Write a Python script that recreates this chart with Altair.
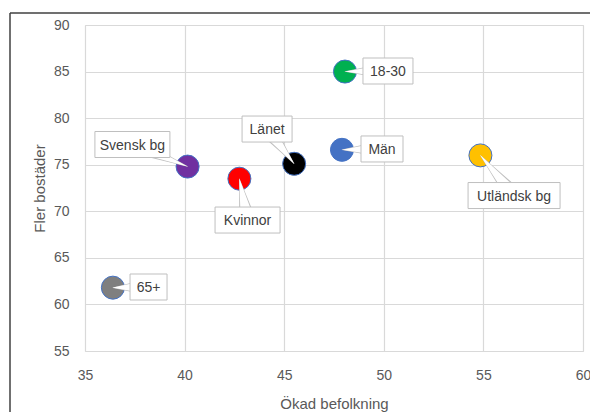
import altair as alt
import pandas as pd

# ---- data ----
names = ["Svensk bg", "Kvinnor", "Länet", "18-30", "Män", "Utländsk bg", "65+"]
befolkning = [40.15, 42.75, 45.5, 48.05, 47.9, 54.85, 36.4]
bostader = [74.8, 73.5, 75.1, 85.0, 76.6, 76.0, 61.8]
colors = ["#7030A0", "#FF0000", "#000000", "#00B050", "#4472C4", "#FFC000", "#7F7F7F"]
# label (callout) centres, in data units
label_x = [37.38, 43.16, 44.14, 50.21, 49.91, 56.54, 38.19]
label_y = [77.17, 69.06, 78.83, 85.06, 76.69, 71.69, 61.87]
# callout box widths in pixels
box_w = [75, 65, 50, 50, 42, 92, 37]
BOX_H = 26

x_ticks = [35, 40, 45, 50, 55, 60]
y_ticks = [55, 60, 65, 70, 75, 80, 85, 90]

FONT = "Liberation Sans"

pts = pd.DataFrame({"name": names, "x": befolkning, "y": bostader, "c": colors})

labels = pd.DataFrame({
    "name": names,
    "x": label_x,
    "y": label_y,
    "path": [f"M-1,{-BOX_H / w:.4f}L1,{-BOX_H / w:.4f}L1,{BOX_H / w:.4f}L-1,{BOX_H / w:.4f}Z" for w in box_w],
    "sz": [w * w for w in box_w],
})

rows = []
for n, px, py, lx, ly in zip(names, befolkning, bostader, label_x, label_y):
    rows.append({"name": n, "x": px, "y": py, "o": 0, "wg": 0.5, "ww": 0.1})
    rows.append({"name": n, "x": lx, "y": ly, "o": 1, "wg": 17, "ww": 14})
wedges = pd.DataFrame(rows)

xs = alt.Scale(domain=[35, 60], nice=False, zero=False)
ys = alt.Scale(domain=[55, 90], nice=False, zero=False)

x_axis = alt.Axis(
    values=x_ticks, title="Ökad befolkning", grid=True, domain=False,
    ticks=False, tickSize=0, labelPadding=28, labelBaseline="alphabetic",
    labelFlush=False, labelAlign="center",
    labelFont=FONT, labelFontSize=14, labelColor="#595959",
    titleFont=FONT, titleFontSize=15, titleColor="#595959", titleFontWeight="normal",
    titleBaseline="alphabetic", titleY=57, titleX=249,
    gridColor="#D9D9D9", gridWidth=1.2)
y_axis = alt.Axis(
    values=y_ticks, title="Fler bostäder", grid=True, domain=False,
    ticks=False, tickSize=0, labelPadding=16,
    labelFlush=False, labelBaseline="middle",
    labelFont=FONT, labelFontSize=14, labelColor="#595959",
    titleFont=FONT, titleFontSize=15, titleColor="#595959", titleFontWeight="normal",
    titleAngle=270, titleAlign="center", titleBaseline="alphabetic",
    titleX=-41, titleY=163,
    gridColor="#D9D9D9", gridWidth=1.2)

X = alt.X("x:Q", scale=xs, axis=x_axis)
Y = alt.Y("y:Q", scale=ys, axis=y_axis)

points = alt.Chart(pts).mark_point(
    filled=True, size=530, opacity=1, stroke="#4472C4", strokeWidth=1
).encode(x=X, y=Y, color=alt.Color("c:N", scale=None))

wedge_gray = alt.Chart(wedges).mark_trail(color="#BFBFBF").encode(
    x=X, y=Y, detail="name:N", order="o:Q", size=alt.Size("wg:Q", scale=None),
)
wedge_white = alt.Chart(wedges).mark_trail(color="#FFFFFF").encode(
    x=X, y=Y, detail="name:N", order="o:Q", size=alt.Size("ww:Q", scale=None),
)

boxes = alt.Chart(labels).mark_point(
    filled=True, fill="#FFFFFF", opacity=1, stroke="#BFBFBF", strokeWidth=1
).encode(
    x=X, y=Y,
    shape=alt.Shape("path:N", scale=None),
    size=alt.Size("sz:Q", scale=None),
)

texts = alt.Chart(labels).mark_text(
    font=FONT, fontSize=14, color="#404040", align="center", baseline="middle", dy=1
).encode(x=X, y=Y, text="name:N")

frame = pd.DataFrame({"k": [0]})
left_border = alt.Chart(frame).mark_rule(color="#404040", strokeWidth=1.5).encode(
    x=alt.value(-75), y=alt.value(-12), y2=alt.value(500)
)
top_border = alt.Chart(frame).mark_rule(color="#404040", strokeWidth=1.5).encode(
    x=alt.value(-75), x2=alt.value(600), y=alt.value(-12)
)

chart = alt.layer(
    points, wedge_gray, wedge_white, boxes, texts, left_border, top_border
).properties(
    width=498, height=326,
    autosize=alt.AutoSizeParams(type="none"),
    padding={"left": 77, "top": 17, "right": 7, "bottom": 62},
).configure_view(stroke="#D9D9D9", strokeWidth=1.2).configure(background="#FFFFFF")

chart.save("out.html", embed_options={"renderer": "svg", "actions": False})
